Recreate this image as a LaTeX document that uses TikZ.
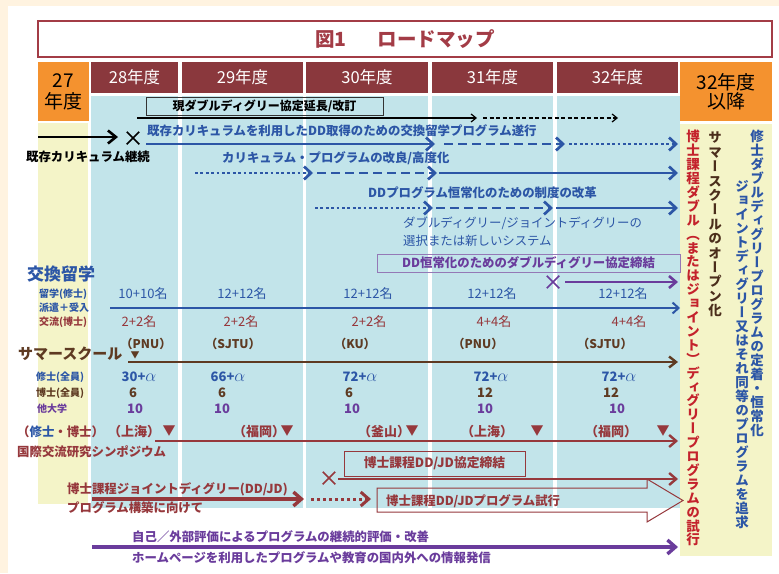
\documentclass[tikz,border=0pt]{standalone}
\usepackage{fontspec}
\setmainfont{Noto Sans CJK JP}
\newfontfamily\vjp[RawFeature=+vert]{Noto Sans CJK JP}
\usetikzlibrary{arrows.meta,shapes.misc,positioning}

\definecolor{hdrred}{HTML}{8A383D}
\definecolor{titred}{HTML}{A33C46}
\definecolor{orng}{HTML}{F4922F}
\definecolor{skyb}{HTML}{C2E4EA}
\definecolor{paley}{HTML}{F4F4C8}
\definecolor{cream}{HTML}{FFF3E0}
\definecolor{ddblue}{HTML}{2C56A6}
\definecolor{ddred}{HTML}{96383C}
\definecolor{ddpurple}{HTML}{6A3C9C}
\definecolor{boxpurple}{HTML}{9478B6}
\definecolor{ddbrown}{HTML}{5E3A22}
\definecolor{redtxt}{HTML}{C4222C}

% vertical text: one glyph per line
\def\vloop#1{\ifx#1\relax\else\hbox to 1em{\hss#1\hss}\expandafter\vloop\fi}
\newcommand\tate[2]{\vbox{\baselineskip=#1\lineskiplimit=-\maxdimen\vjp\vloop#2\relax}}

\tikzset{
  yrhead/.style={text=white,font=\fontsize{16.5}{16.5}\selectfont},
  orbox/.style={align=center,font=\fontsize{19}{21}\selectfont},
  fullarr/.style={line width=2.7pt,-{Straight Barb[length=7pt,width=13pt]}},
  dasharr/.style={fullarr,dash pattern=on 9pt off 5pt},
  dotarr/.style={fullarr,dash pattern=on 2.7pt off 2.7pt},
  xmark/.style={cross out,draw,minimum size=11pt,line width=1.5pt}
}

\begin{document}
\begin{tikzpicture}[x=1pt,y=-1pt,
  every node/.style={inner sep=0pt},
  txt/.style={anchor=west,font=\bfseries\fontsize{12.4}{14}\selectfont},
  small/.style={anchor=west,font=\bfseries\fontsize{10}{12}\selectfont},
  num/.style={font=\fontsize{13}{14}\selectfont},
  bnum/.style={font=\bfseries\fontsize{13}{14}\selectfont},
  tatecol/.style={anchor=north,font=\bfseries\fontsize{13.5}{14}\selectfont}]
  \useasboundingbox (0,0) rectangle (779,573);
  \fill[white] (0,0) rectangle (779,573);
  \fill[cream] (0,0) rectangle (779,6);
  \fill[cream] (0,0) rectangle (8,573);

  % title
  \node[draw=titred,line width=1.2pt,fill=white,minimum width=734pt,minimum height=36pt,
    text=titred,font=\bfseries\fontsize{19.5}{19.5}\selectfont] (title) at (405,39)
    {図1\hspace{1.6em}ロードマップ};

  % year columns
  \foreach \nm/\xa/\xb/\xc/\yr in {y28/91/178/178/28, y29/182/303/303/29, y30/306/428/428/30,
      y31/432/553/553/31, y32/557/678/680/32} {
    \fill[skyb] (\xa,96) rectangle (\xc,508);
    \fill[hdrred] (\xa,62) rectangle (\xb,93);
    \node[yrhead] (\nm) at ({(\xa+\xb)/2},77.5) {\yr 年度};
  }
  \fill[orng] (38,62) rectangle (89,121);
  \fill[paley] (38,123) rectangle (88,504);
  \node[orbox] (y27) at (63.5,92) {27\\年度};
  \fill[orng] (680,62) rectangle (772,121);
  \fill[paley] (680,124) rectangle (772,556);
  \node[orbox,font=\fontsize{19}{19}\selectfont] (y32p) at (726,92) {32年度\\以降};

  % goals after 32
  \node[tatecol,text=redtxt] (goal1) at (693,130)
    {\tate{13.9pt}{博士課程ダブル（またはジョイント）ディグリープログラムの試行}};
  \node[tatecol,text=ddbrown!80!black] (goal2) at (715,132)
    {\tate{14.4pt}{サマースクールのオープン化}};
  \node[tatecol,text=ddblue] (goal3) at (742,180)
    {\tate{14pt}{ジョイントディグリー又はそれ同等のプログラムを追求}};
  \node[tatecol,text=ddblue] (goal4) at (757,130)
    {\tate{14pt}{修士ダブルディグリープログラムの定着・恒常化}};

  % arrow end points
  \foreach \nm/\px/\py in {a0/137/118, a1/477/118, a2/483/118, a3/618/118,
      k0/38/137, k1/118/137, b0/146/144, b1/435/144, b2/444/144, b3/565/144, b4/569/144, b5/678/144,
      c0/195/173, c1/313/173, c2/317/173, c3/437/173, c4/439/173, c5/678/173,
      d0/315/208, d1/433/208, d2/436/208, d3/553/208, d4/556/208, d5/678/208,
      g0/565/282, g1/678/282, h0/110/308, h1/680/308, s0/128/362, s1/678/362,
      j0/155/441, j1/678/441, p0/338/479, p1/678/479,
      l0/92/499, l1/304/499, l2/311/499, l3/371/499, m0/92/547, m1/678/547}
    \coordinate (\nm) at (\px,\py);

  % agreement renewal
  \node[draw=black!80,line width=0.8pt,minimum width=237pt,minimum height=18pt,
    font=\bfseries\fontsize{12}{13}\selectfont] (renew) at (264.5,106)
    {現ダブルディグリー協定延長/改訂};
  \draw[line width=1.2pt,-{Straight Barb[length=5pt,width=8pt]}] (a0) -- (a1);
  \draw[line width=1.2pt,dash pattern=on 4pt off 2.5pt,-{Straight Barb[length=5pt,width=8pt]}] (a2) -- (a3);

  % existing curriculum
  \draw[line width=2.6pt,-{Straight Barb[length=8pt,width=13pt]}] (k0) -- (k1);
  \node[xmark,black] (x1) at (133,138) {};
  \node[txt,black] (keep) at (26,157) {既存カリキュラム継続};

  % DD programme rows
  \node[txt,ddblue] (exch) at (147,131) {既存カリキュラムを利用したDD取得のための交換留学プログラム遂行};
  \node[txt,ddblue] (improve) at (222,158) {カリキュラム・プログラムの改良/高度化};
  \node[txt,ddblue] (reform) at (368,193) {DDプログラム恒常化のための制度の改革};
  \node[txt,ddblue,font=\fontsize{12.4}{14}\selectfont] (choice1) at (403,223) {ダブルディグリー/ジョイントディグリーの};
  \node[txt,ddblue,font=\fontsize{12.4}{14}\selectfont] (choice2) at (403,241) {選択または新しいシステム};
  \foreach \from/\to/\how in {b0/b1/fullarr, b2/b3/dasharr, b4/b5/dotarr,
      c0/c1/dotarr, c2/c3/dasharr, c4/c5/fullarr,
      d0/d1/dotarr, d2/d3/dasharr, d4/d5/fullarr}
    \draw[ddblue,\how] (\from) -- (\to);

  \node[draw=boxpurple,line width=0.8pt,minimum width=303pt,minimum height=18pt,text=ddpurple,
    font=\bfseries\fontsize{12.4}{14}\selectfont] (ddagree) at (528.5,263)
    {DD恒常化のためのダブルディグリー協定締結};
  \node[xmark,ddpurple] (x2) at (553,282) {};
  \draw[ddpurple,line width=2.6pt,-{Straight Barb[length=7pt,width=12pt]}] (g0) -- (g1);

  % exchange students
  \node[anchor=west,text=ddblue,font=\bfseries\fontsize{17}{17}\selectfont] (exhead) at (27,274) {交換留学};
  \node[small,ddblue] (lab1) at (39,294) {留学(修士)};
  \node[small,ddblue] (lab2) at (39,308) {派遣＋受入};
  \node[small,ddred] (lab3) at (39,322) {交流(博士)};
  \foreach \px/\v in {143/10+10, 242/12+12, 368/12+12, 492/12+12, 623/12+12}
    \node[num,ddblue] (ms-\px) at (\px,294) {\v 名};
  \foreach \px/\v in {139/2+2, 241/2+2, 369/2+2, 494/4+4, 629/4+4}
    \node[num,ddred] (dr-\px) at (\px,322) {\v 名};
  \draw[ddblue,line width=2pt,-{Straight Barb[length=6pt,width=11pt]}] (h0) -- (h1);

  % summer school
  \node[anchor=west,text=ddbrown,font=\bfseries\fontsize{15}{15}\selectfont] (sshead) at (18,354) {サマースクール};
  \foreach \px/\v in {146/PNU, 233/SJTU, 355/KU, 478/PNU, 605/SJTU}
    \node[bnum,ddbrown,font=\bfseries\fontsize{12}{13}\selectfont] (ss-\px) at (\px,344) {（\v）};
  \node[ddbrown,font=\fontsize{9}{9}\selectfont] (sstri) at (135,355) {▼};
  \draw[ddbrown,line width=2.4pt,-{Straight Barb[length=7pt,width=11pt]}] (s0) -- (s1);
  \node[small,ddblue] (lab4) at (36,377) {修士(全員)};
  \node[small,ddbrown] (lab5) at (36,393) {博士(全員)};
  \node[small,ddpurple] (lab6) at (37,409) {他大学};
  \foreach \px/\v in {139/30, 228/66, 360/72, 491/72, 619/72}
    \node[bnum,ddblue] (sm-\px) at (\px,377) {\v+{\fontsize{16}{16}\selectfont$\alpha$}};
  \foreach \px/\v in {133/6, 222/6, 349/6, 485/12, 611/12}
    \node[bnum,ddbrown] (sd-\px) at (\px,393) {\v};
  \foreach \px/\v in {135/10, 222/10, 352/10, 485/10, 617/10}
    \node[bnum,ddpurple] (so-\px) at (\px,409) {\v};

  % symposium
  \node[txt] (symp1) at (17,432) {\color{ddred}（\color{ddblue}修士\color{ddred}・博士）};
  \node[txt,ddred] (symp2) at (17,452) {国際交流研究シンポジウム};
  \foreach \px/\v/\tx in {134/上海/169, 259/福岡/287, 384/釜山/412, 487/上海/537, 611/福岡/663} {
    \node[bnum,ddred] (sy-\px) at (\px,432) {（\v）};
    \node[ddred,font=\fontsize{13}{13}\selectfont] (tri-\px) at (\tx,431) {▼};
  }
  \draw[ddred,line width=2.4pt,-{Straight Barb[length=7pt,width=12pt]}] (j0) -- (j1);

  % doctoral DD/JD
  \node[draw=ddred,line width=0.8pt,minimum width=181pt,minimum height=25pt,text=ddred,
    font=\bfseries\fontsize{12.8}{14}\selectfont] (jdagree) at (434.5,463.5) {博士課程DD/JD協定締結};
  \node[xmark,ddred] (x3) at (329,478) {};
  \draw[ddred,line width=2.4pt,-{Straight Barb[length=7pt,width=12pt]}] (p0) -- (p1);
  \node[txt,ddred] (jd1) at (67,489) {博士課程ジョイントディグリー(DD/JD)};
  \node[txt,ddred] (jd2) at (67,508) {プログラム構築に向けて};
  \draw[ddred,line width=3.4pt,-{Straight Barb[length=8pt,width=14pt]}] (l0) -- (l1);
  \draw[ddred,line width=3pt,dash pattern=on 3pt off 3pt,-{Straight Barb[length=8pt,width=14pt]}] (l2) -- (l3);
  \draw[ddred,line width=1pt] (377,488) -- (647,488) -- (647,479) -- (683,500.5)
    -- (647,522) -- (647,512) -- (377,512) -- cycle;
  \node[txt,ddred] (jdtrial) at (386,501) {博士課程DD/JDプログラム試行};

  % evaluation
  \node[txt,ddpurple] (eval) at (132,537) {自己／外部評価によるプログラムの継続的評価・改善};
  \draw[ddpurple,line width=3.4pt,-{Straight Barb[length=8pt,width=14pt]}] (m0) -- (m1);
  \node[txt,ddpurple] (web) at (132,558) {ホームページを利用したプログラムや教育の国内外への情報発信};
\end{tikzpicture}
\end{document}
